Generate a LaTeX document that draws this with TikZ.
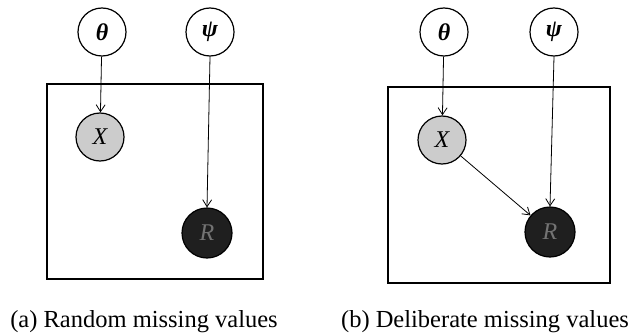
\documentclass[tikz,border=0pt]{standalone}
\usepackage{fontspec}
\setmainfont{Liberation Serif}
\usetikzlibrary{arrows.meta}
\begin{document}
\begin{tikzpicture}[x=1pt,y=-1pt,
  param/.style={circle,draw,line width=1.2pt,minimum size=48pt,inner sep=0pt,font=\fontsize{24}{26}\selectfont\bfseries\itshape},
  obsx/.style={circle,draw,line width=1.2pt,minimum size=48pt,inner sep=0pt,fill=black!20,font=\fontsize{24}{26}\selectfont\itshape},
  miss/.style={circle,draw,line width=1.2pt,minimum size=50pt,inner sep=0pt,fill=black!88,text=black!55,font=\fontsize{24}{26}\selectfont\itshape},
  plate/.style={draw,line width=1.8pt},
  edge/.style={-{Straight Barb[length=7pt,width=9pt]},line width=0.8pt},
  captext/.style={font=\fontsize{24.5}{28}\selectfont}]
\useasboundingbox (0,0) rectangle (644,334);
% panel (a)
\draw[plate] (47,84) rectangle (263,279);
\node[param] (ta) at (102,32) {θ};
\node[param] (pa) at (210,32) {ψ};
\node[obsx] (xa) at (100,137) {X};
\node[miss] (ra) at (207,233) {R};
\draw[edge] (ta) -- (xa);
\draw[edge] (pa.south) -- (ra.north);
\node[captext] (ca) at (144,322) {(a) Random missing values};
% panel (b)
\draw[plate] (388,87) rectangle (610,283);
\node[param] (tb) at (444,32) {θ};
\node[param] (pb) at (554,32) {ψ};
\node[obsx] (xb) at (442,140) {X};
\node[miss] (rb) at (550,232) {R};
\draw[edge] (tb) -- (xb);
\draw[edge] (pb.south) -- (rb.north);
\draw[edge] (xb) -- (rb);
\node[captext] (cb) at (485,322) {(b) Deliberate missing values};
\end{tikzpicture}
\end{document}
